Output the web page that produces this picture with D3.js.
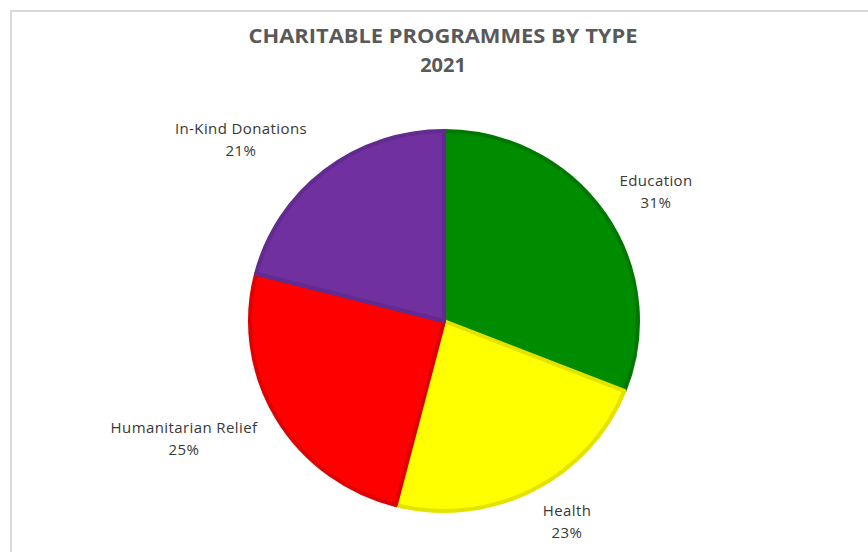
<!DOCTYPE html>
<html><head><meta charset="utf-8">
<script src="https://cdn.jsdelivr.net/npm/d3@7"></script>
<style>body{margin:0;background:#fff;}svg{display:block;font-family:"Open Sans",Lato,sans-serif;}</style>
</head><body>
<svg id="c" width="868" height="552"></svg>
<script>
const categories = ["Education", "Health", "Humanitarian Relief", "In-Kind Donations"];
const values = [31, 23, 25, 21];
const colors = ["#008c00", "#ffff00", "#ff0000", "#7030a0"];
const strokes = ["#007800", "#e3e300", "#e00000", "#632a8f"];
const titleLines = ["CHARITABLE PROGRAMMES BY TYPE", "2021"];

const svg = d3.select("#c");
svg.append("rect").attr("x", 11).attr("y", 11).attr("width", 900).attr("height", 600)
  .attr("fill", "#fff").attr("stroke", "#d9d9d9").attr("stroke-width", 2);

const titles = svg.selectAll("text.title").data(titleLines).join("text").attr("class", "title")
  .attr("x", 443).attr("y", (d, i) => 43 + i * 29)
  .attr("text-anchor", "middle").attr("font-size", 20).attr("font-weight", "bold")
  .attr("fill", "#595959").text(d => d);
titles.filter((d, i) => i === 0)
  .attr("textLength", 389).attr("lengthAdjust", "spacingAndGlyphs");

const cx = 444, cy = 321, r = 192, sx = 196 / 192;
const data = categories.map((c, i) => ({ cat: c, value: values[i], i }));
const pie = d3.pie().value(d => d.value).sort(null);
const arcs = pie(data);
const arc = d3.arc().innerRadius(0).outerRadius(r - 2);

const g = svg.append("g").attr("transform", `translate(${cx},${cy}) scale(${sx},1)`);
g.selectAll("path").data(arcs).join("path")
  .attr("d", arc)
  .attr("fill", d => colors[d.data.i])
  .attr("stroke", d => strokes[d.data.i])
  .attr("stroke-width", 4)
  .attr("stroke-linejoin", "round");

const labelPos = [[656, 186], [567, 516], [184, 433], [241, 134]];
const lg = svg.append("g");
arcs.forEach((a, k) => {
  const [x, y] = labelPos[k];
  const t = lg.append("text").attr("text-anchor", "middle").attr("font-size", 15)
    .attr("letter-spacing", 0.4).attr("fill", "#383838");
  t.append("tspan").attr("x", x).attr("y", y).text(a.data.cat);
  t.append("tspan").attr("x", x).attr("y", y + 22).text(a.data.value + "%");
});
</script>
</body></html>
